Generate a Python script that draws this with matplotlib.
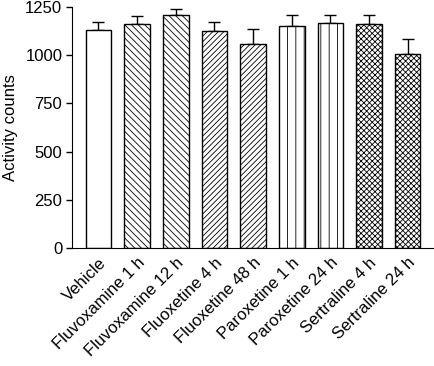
import numpy as np
import matplotlib
matplotlib.use('Agg')
import matplotlib.pyplot as plt

plt.rcParams['font.family'] = ['Liberation Sans', 'DejaVu Sans']
plt.rcParams['hatch.linewidth'] = 0.6

groups = ['Vehicle', 'Fluvoxamine 1 h', 'Fluvoxamine 12 h', 'Fluoxetine 4 h',
          'Fluoxetine 48 h', 'Paroxetine 1 h', 'Paroxetine 24 h',
          'Sertraline 4 h', 'Sertraline 24 h']
counts = [1130, 1163, 1207, 1125, 1056, 1153, 1165, 1160, 1005]
sem = [43, 40, 33, 48, 80, 57, 45, 47, 79]
hatches = ['', '\\\\\\\\\\', '\\\\\\\\\\', '//////', '//////', '||', '||', 'xxxxxx', 'xxxxxx']

fig = plt.figure(figsize=(4.35, 3.66), dpi=100)
ax = fig.add_axes([0.1655, 0.322, 0.834, 0.659])

x = np.arange(len(groups))
for i in range(len(groups)):
    ax.bar(x[i], counts[i], 0.66, color='white', edgecolor='black',
           linewidth=1.0, hatch=hatches[i], zorder=2)
ax.errorbar(x, counts, yerr=[np.zeros(len(sem)), sem], fmt='none',
            ecolor='black', elinewidth=1.0, capsize=4.5, capthick=1.0, zorder=1)

ax.set_xlim(-0.685, 8.70)
ax.set_ylim(0, 1250)
ax.set_yticks([0, 250, 500, 750, 1000, 1250])
ax.set_xticks(x)
ax.set_xticklabels(groups, rotation=45, ha='right', rotation_mode='anchor')
ax.tick_params(axis='x', length=0, pad=5, labelsize=12)
ax.tick_params(axis='y', length=4, width=1, labelsize=12, pad=3)
ax.set_ylabel('Activity counts', fontsize=12)
ax.yaxis.set_label_coords(-0.148, 0.5)
ax.spines['top'].set_visible(False)
ax.spines['right'].set_visible(False)

fig.savefig('out.png', dpi=100)
